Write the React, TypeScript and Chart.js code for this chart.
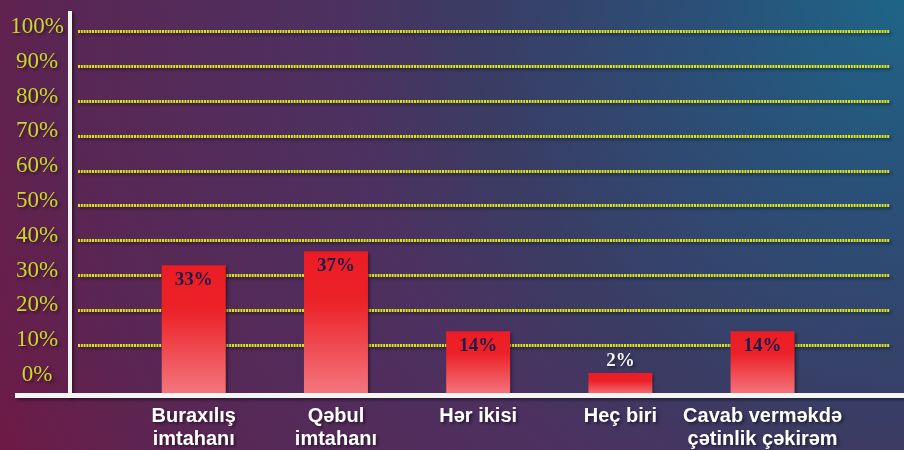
import React, { useEffect, useRef } from 'react';
import { Chart, registerables } from 'chart.js';

Chart.register(...registerables);

const categories = [
  'Buraxılış\nimtahanı',
  'Qəbul\nimtahanı',
  'Hər ikisi',
  'Heç biri',
  'Cavab verməkdə\nçətinlik çəkirəm',
];
const values = [33, 37, 14, 2, 14];
const yTickValues = [0, 10, 20, 30, 40, 50, 60, 70, 80, 90, 100];

const Y_MIN = -4.45;
const Y_MAX = 106;
const X_MIN = -0.814;
const X_MAX = 4.896;

const decor = {
  id: 'decor',
  beforeDraw(chart: any) {
    const ctx = chart.ctx;
    ctx.save();
    ctx.shadowColor = 'rgba(0,0,0,0.45)';
    ctx.shadowBlur = 3;
    ctx.shadowOffsetX = 2;
    ctx.shadowOffsetY = 2;
  },
  afterDatasetsDraw(chart: any) {
    const ctx = chart.ctx;
    const { left, top, bottom } = chart.chartArea;
    ctx.save();
    ctx.strokeStyle = '#f4f4f4';
    ctx.lineCap = 'butt';
    // vertical axis line
    ctx.lineWidth = 4;
    ctx.beginPath();
    ctx.moveTo(left - 8, top);
    ctx.lineTo(left - 8, bottom + 2);
    ctx.stroke();
    // horizontal axis line
    ctx.lineWidth = 5;
    ctx.beginPath();
    ctx.moveTo(15, bottom);
    ctx.lineTo(chart.width, bottom);
    ctx.stroke();

    // value labels
    const meta = chart.getDatasetMeta(0);
    ctx.textAlign = 'center';
    ctx.textBaseline = 'middle';
    ctx.font = 'bold 19px "Liberation Serif", serif';
    meta.data.forEach((bar: any, i: number) => {
      const v = values[i];
      const text = v + '%';
      if (v >= 5) {
        ctx.fillStyle = '#1c1d4d';
        ctx.shadowColor = 'rgba(0,0,0,0)';
        ctx.fillText(text, bar.x, bar.y + 15);
      } else {
        ctx.shadowColor = 'rgba(0,0,0,0.45)';
        ctx.fillStyle = '#f2f2f2';
        ctx.fillText(text, bar.x, bar.y - 12);
      }
    });
    ctx.restore();
  },
  afterDraw(chart: any) {
    chart.ctx.restore();
  },
};

export default function App() {
  const canvasRef = useRef<HTMLCanvasElement | null>(null);

  useEffect(() => {
    if (!canvasRef.current) return;
    const chart = new Chart(canvasRef.current, {
      type: 'bar',
      data: {
        datasets: [
          {
            data: values.map((v, i) => ({ x: i, y: v })),
            base: Y_MIN,
            barPercentage: 0.45,
            categoryPercentage: 1,
            borderWidth: 0,
            backgroundColor: (c: any) => {
              const ch = c.chart;
              if (!ch.chartArea || c.type !== 'data') return '#ec1c24';
              const ys = ch.scales.y;
              const topPx = ys.getPixelForValue(c.parsed.y);
              const botPx = ys.getPixelForValue(Y_MIN);
              const g = ch.ctx.createLinearGradient(0, topPx, 0, botPx);
              g.addColorStop(0, '#ec1c24');
              g.addColorStop(0.35, '#ec2229');
              g.addColorStop(1, '#f47880');
              return g;
            },
          } as any,
        ],
      },
      options: {
        animation: false,
        responsive: false,
        events: [],
        layout: { autoPadding: false, padding: { top: 11, right: 14, left: 0, bottom: 0 } },
        plugins: {
          legend: { display: false },
          tooltip: { enabled: false },
        },
        scales: {
          x: {
            type: 'linear',
            min: X_MIN,
            max: X_MAX,
            offset: false,
            grid: { display: false, drawTicks: false, offset: false },
            border: { display: false },
            afterBuildTicks: (scale: any) => {
              scale.ticks = categories.map((_, i) => ({ value: i }));
            },
            afterFit: (scale: any) => {
              scale.height = 54.5;
              scale.paddingLeft = 0;
              scale.paddingRight = 0;
            },
            ticks: {
              autoSkip: false,
              maxRotation: 0,
              minRotation: 0,
              padding: 9.5,
              color: '#ffffff',
              font: { family: '"Liberation Sans", Arial, sans-serif', size: 20, weight: 'bold', lineHeight: 1.15 },
              callback: (v: any) => {
                const lab = categories[Math.round(Number(v))];
                return lab ? lab.split('\n') : '';
              },
            },
          },
          y: {
            type: 'linear',
            min: Y_MIN,
            max: Y_MAX,
            afterBuildTicks: (scale: any) => {
              scale.ticks = yTickValues.map((v) => ({ value: v }));
            },
            afterFit: (scale: any) => {
              scale.width = 78;
              scale.paddingTop = 0;
              scale.paddingBottom = 0;
            },
            grid: {
              drawTicks: false,
              lineWidth: 3,
              color: (c: any) => (c.tick && c.tick.value === 0 ? 'rgba(0,0,0,0)' : '#d8e31c'),
            },
            border: { display: false, dash: [2, 0.8] },
            ticks: {
              crossAlign: 'center',
              padding: 14,
              labelOffset: -5,
              color: '#c9d62a',
              font: { family: '"Liberation Serif", "Times New Roman", serif', size: 23 },
              callback: (v: any) => v + '%',
            },
          },
        },
      },
      plugins: [decor],
    } as any);
    return () => chart.destroy();
  }, []);

  return (
    <div
      style={{
        position: 'absolute',
        left: 0,
        top: 0,
        width: 904,
        height: 450,
        overflow: 'hidden',
        background:
          'radial-gradient(circle at 100% 0%, #1e6587 0px, #2a5078 200px, #3b3b63 440px, #4c3160 560px, #5a2654 850px, #6e1a45 1010px)',
      }}
    >
      <canvas ref={canvasRef} width={904} height={450} style={{ display: 'block' }} />
    </div>
  );
}
